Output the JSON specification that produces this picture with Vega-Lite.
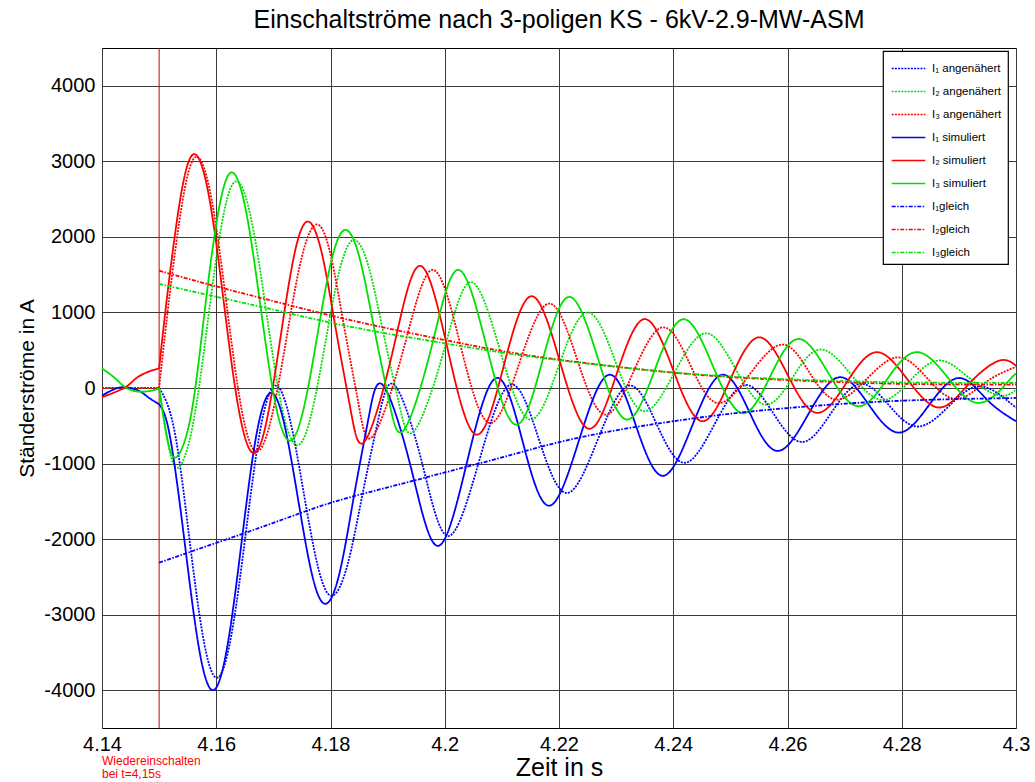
{
"$schema": "https://vega.github.io/schema/vega-lite/v6.json",
"autosize": {"type": "none"},
"width": 914, "height": 680,
"padding": {"left": 102, "top": 48, "right": 19, "bottom": 54},
"background": "white",
"title": {"text": "Einschaltströme nach 3-poligen KS - 6kV-2.9-MW-ASM", "font": "Liberation Sans", "fontSize": 25, "fontWeight": "normal", "color": "black", "offset": 15},
"config": {
  "font": "Liberation Sans",
  "view": {"stroke": "black", "strokeWidth": 1},
  "axis": {"domain": false, "ticks": false, "grid": true, "gridColor": "#3a3a3a", "gridWidth": 1, "labelFont": "Liberation Sans", "labelFontSize": 20, "labelColor": "black", "labelFlush": false, "labelOverlap": false, "titleFont": "Liberation Sans", "titleFontWeight": "normal", "titleColor": "black"},
  "legend": {"orient": "none", "legendX": 781, "legendY": 3, "fillColor": "white", "strokeColor": "black", "strokeWidth": 1.2, "padding": 6, "rowPadding": 6, "symbolType": "M-1.6,0H1.6", "symbolSize": 441, "symbolStrokeWidth": 1.6, "symbolOffset": 8, "labelOffset": 12, "labelFont": "Liberation Sans", "labelFontSize": 11.5, "labelColor": "black"}
},
"encoding": {
  "x": {"field": "t", "type": "quantitative", "scale": {"domain": [4.14, 4.3], "nice": false, "zero": false}, "axis": {"values": [4.14,4.16,4.18,4.2,4.22,4.24,4.26,4.28,4.3], "labelExpr": "'' + datum.value", "labelPadding": 6, "title": "Zeit in s", "titleFontSize": 25, "titlePadding": 1}},
  "y": {"field": "v", "type": "quantitative", "scale": {"domain": [-4500, 4500], "nice": false, "zero": false}, "axis": {"values": [-4000,-3000,-2000,-1000,0,1000,2000,3000,4000], "labelExpr": "'' + datum.value", "labelPadding": 7, "title": "Ständerströme in A", "titleFontSize": 21, "titlePadding": 6}}
},
"layer": [
{"data": {"values": [{"t": 4.15, "v": 4500, "v2": -4500}]},
 "mark": {"type": "rule", "color": "#d00000", "strokeWidth": 1},
 "encoding": {"y2": {"field": "v2"}}},
{"data": {"values": [
{"s":"I₁ angenähert","p":"a","t":4.14,"v":0},{"s":"I₁ angenähert","p":"a","t":4.15,"v":0},
{"s":"I₁ angenähert","p":"b","t":4.15,"v":0},{"s":"I₁ angenähert","p":"b","t":4.1526,"v":-536},{"s":"I₁ angenähert","p":"b","t":4.15515,"v":-1903},{"s":"I₁ angenähert","p":"b","t":4.15763,"v":-3270},{"s":"I₁ angenähert","p":"b","t":4.1601,"v":-3835},{"s":"I₁ angenähert","p":"b","t":4.16265,"v":-3270},{"s":"I₁ angenähert","p":"b","t":4.1652,"v":-1903},{"s":"I₁ angenähert","p":"b","t":4.16775,"v":-536},{"s":"I₁ angenähert","p":"b","t":4.1703,"v":30},{"s":"I₁ angenähert","p":"b","t":4.17278,"v":-377},{"s":"I₁ angenähert","p":"b","t":4.17525,"v":-1360},{"s":"I₁ angenähert","p":"b","t":4.17773,"v":-2343},{"s":"I₁ angenähert","p":"b","t":4.1802,"v":-2750},{"s":"I₁ angenähert","p":"b","t":4.18297,"v":-2342},{"s":"I₁ angenähert","p":"b","t":4.18573,"v":-1358},{"s":"I₁ angenähert","p":"b","t":4.18849,"v":-374},{"s":"I₁ angenähert","p":"b","t":4.19125,"v":35},{"s":"I₁ angenähert","p":"b","t":4.19593,"v":-963},{"s":"I₁ angenähert","p":"b","t":4.2006,"v":-1960},{"s":"I₁ angenähert","p":"b","t":4.20605,"v":-958},{"s":"I₁ angenähert","p":"b","t":4.2115,"v":44},{"s":"I₁ angenähert","p":"b","t":4.21645,"v":-673},{"s":"I₁ angenähert","p":"b","t":4.2214,"v":-1390},{"s":"I₁ angenähert","p":"b","t":4.2268,"v":-680},{"s":"I₁ angenähert","p":"b","t":4.2322,"v":31},{"s":"I₁ angenähert","p":"b","t":4.2371,"v":-480},{"s":"I₁ angenähert","p":"b","t":4.242,"v":-990},{"s":"I₁ angenähert","p":"b","t":4.24725,"v":-476},{"s":"I₁ angenähert","p":"b","t":4.2525,"v":38},{"s":"I₁ angenähert","p":"b","t":4.25755,"v":-339},{"s":"I₁ angenähert","p":"b","t":4.2626,"v":-715},{"s":"I₁ angenähert","p":"b","t":4.26765,"v":-330},{"s":"I₁ angenähert","p":"b","t":4.2727,"v":55},{"s":"I₁ angenähert","p":"b","t":4.27775,"v":-228},{"s":"I₁ angenähert","p":"b","t":4.2828,"v":-510},{"s":"I₁ angenähert","p":"b","t":4.2882,"v":-244},{"s":"I₁ angenähert","p":"b","t":4.2936,"v":22},{"s":"I₁ angenähert","p":"b","t":4.2986,"v":-174},{"s":"I₁ angenähert","p":"b","t":4.3,"v":-257},
{"s":"I₂ angenähert","p":"a","t":4.14,"v":0},{"s":"I₂ angenähert","p":"a","t":4.15,"v":0},
{"s":"I₂ angenähert","p":"b","t":4.15,"v":0},{"s":"I₂ angenähert","p":"b","t":4.1517,"v":-783},{"s":"I₂ angenähert","p":"b","t":4.1534,"v":-1052},{"s":"I₂ angenähert","p":"b","t":4.15588,"v":-497},{"s":"I₂ angenähert","p":"b","t":4.15845,"v":842},{"s":"I₂ angenähert","p":"b","t":4.16098,"v":2181},{"s":"I₂ angenähert","p":"b","t":4.1635,"v":2736},{"s":"I₂ angenähert","p":"b","t":4.16615,"v":2225},{"s":"I₂ angenähert","p":"b","t":4.1688,"v":989},{"s":"I₂ angenähert","p":"b","t":4.17145,"v":-247},{"s":"I₂ angenähert","p":"b","t":4.1741,"v":-759},{"s":"I₂ angenähert","p":"b","t":4.1766,"v":-361},{"s":"I₂ angenähert","p":"b","t":4.1791,"v":601},{"s":"I₂ angenähert","p":"b","t":4.1816,"v":1563},{"s":"I₂ angenähert","p":"b","t":4.1841,"v":1960},{"s":"I₂ angenähert","p":"b","t":4.18673,"v":1590},{"s":"I₂ angenähert","p":"b","t":4.18935,"v":694},{"s":"I₂ angenähert","p":"b","t":4.19198,"v":-202},{"s":"I₂ angenähert","p":"b","t":4.1946,"v":-573},{"s":"I₂ angenähert","p":"b","t":4.19955,"v":414},{"s":"I₂ angenähert","p":"b","t":4.2045,"v":1401},{"s":"I₂ angenähert","p":"b","t":4.2097,"v":492},{"s":"I₂ angenähert","p":"b","t":4.2149,"v":-417},{"s":"I₂ angenähert","p":"b","t":4.21995,"v":292},{"s":"I₂ angenähert","p":"b","t":4.225,"v":1000},{"s":"I₂ angenähert","p":"b","t":4.2299,"v":347},{"s":"I₂ angenähert","p":"b","t":4.2348,"v":-307},{"s":"I₂ angenähert","p":"b","t":4.24025,"v":209},{"s":"I₂ angenähert","p":"b","t":4.2457,"v":724},{"s":"I₂ angenähert","p":"b","t":4.2509,"v":253},{"s":"I₂ angenähert","p":"b","t":4.2561,"v":-219},{"s":"I₂ angenähert","p":"b","t":4.26095,"v":146},{"s":"I₂ angenähert","p":"b","t":4.2658,"v":510},{"s":"I₂ angenähert","p":"b","t":4.27115,"v":176},{"s":"I₂ angenähert","p":"b","t":4.2765,"v":-158},{"s":"I₂ angenähert","p":"b","t":4.28155,"v":104},{"s":"I₂ angenähert","p":"b","t":4.2866,"v":365},{"s":"I₂ angenähert","p":"b","t":4.2918,"v":133},{"s":"I₂ angenähert","p":"b","t":4.297,"v":-100},{"s":"I₂ angenähert","p":"b","t":4.3,"v":-20},
{"s":"I₃ angenähert","p":"a","t":4.14,"v":0},{"s":"I₃ angenähert","p":"a","t":4.15,"v":0},
{"s":"I₃ angenähert","p":"b","t":4.15,"v":0},{"s":"I₃ angenähert","p":"b","t":4.15165,"v":1110},{"s":"I₃ angenähert","p":"b","t":4.15413,"v":2489},{"s":"I₃ angenähert","p":"b","t":4.1566,"v":3061},{"s":"I₃ angenähert","p":"b","t":4.1592,"v":2489},{"s":"I₃ angenähert","p":"b","t":4.1618,"v":1110},{"s":"I₃ angenähert","p":"b","t":4.1644,"v":-269},{"s":"I₃ angenähert","p":"b","t":4.167,"v":-840},{"s":"I₃ angenähert","p":"b","t":4.16965,"v":-400},{"s":"I₃ angenähert","p":"b","t":4.1723,"v":663},{"s":"I₃ angenähert","p":"b","t":4.17495,"v":1726},{"s":"I₃ angenähert","p":"b","t":4.1776,"v":2165},{"s":"I₃ angenähert","p":"b","t":4.18005,"v":1754},{"s":"I₃ angenähert","p":"b","t":4.1825,"v":763},{"s":"I₃ angenähert","p":"b","t":4.18495,"v":-228},{"s":"I₃ angenähert","p":"b","t":4.1874,"v":-639},{"s":"I₃ angenähert","p":"b","t":4.1926,"v":463},{"s":"I₃ angenähert","p":"b","t":4.1978,"v":1564},{"s":"I₃ angenähert","p":"b","t":4.2028,"v":551},{"s":"I₃ angenähert","p":"b","t":4.2078,"v":-463},{"s":"I₃ angenähert","p":"b","t":4.21305,"v":328},{"s":"I₃ angenähert","p":"b","t":4.2183,"v":1118},{"s":"I₃ angenähert","p":"b","t":4.22315,"v":384},{"s":"I₃ angenähert","p":"b","t":4.228,"v":-351},{"s":"I₃ angenähert","p":"b","t":4.2331,"v":226},{"s":"I₃ angenähert","p":"b","t":4.2382,"v":803},{"s":"I₃ angenähert","p":"b","t":4.243,"v":302},{"s":"I₃ angenähert","p":"b","t":4.2478,"v":-200},{"s":"I₃ angenähert","p":"b","t":4.25345,"v":188},{"s":"I₃ angenähert","p":"b","t":4.2591,"v":575},{"s":"I₃ angenähert","p":"b","t":4.2638,"v":211},{"s":"I₃ angenähert","p":"b","t":4.2685,"v":-154},{"s":"I₃ angenähert","p":"b","t":4.27395,"v":126},{"s":"I₃ angenähert","p":"b","t":4.2794,"v":405},{"s":"I₃ angenähert","p":"b","t":4.28445,"v":130},{"s":"I₃ angenähert","p":"b","t":4.2895,"v":-145},{"s":"I₃ angenähert","p":"b","t":4.2947,"v":78},{"s":"I₃ angenähert","p":"b","t":4.3,"v":280},
{"s":"I₁ simuliert","p":"a","t":4.14,"v":-101},{"s":"I₁ simuliert","p":"a","t":4.1422,"v":-13},{"s":"I₁ simuliert","p":"a","t":4.1441,"v":9},{"s":"I₁ simuliert","p":"a","t":4.1464,"v":-35},{"s":"I₁ simuliert","p":"a","t":4.1481,"v":-123},{"s":"I₁ simuliert","p":"a","t":4.15,"v":-215},
{"s":"I₁ simuliert","p":"b","t":4.15,"v":-215},{"s":"I₁ simuliert","p":"b","t":4.1519,"v":-641},{"s":"I₁ simuliert","p":"b","t":4.15445,"v":-2032},{"s":"I₁ simuliert","p":"b","t":4.15693,"v":-3424},{"s":"I₁ simuliert","p":"b","t":4.1594,"v":-4000},{"s":"I₁ simuliert","p":"b","t":4.16193,"v":-3424},{"s":"I₁ simuliert","p":"b","t":4.16445,"v":-2032},{"s":"I₁ simuliert","p":"b","t":4.16698,"v":-640},{"s":"I₁ simuliert","p":"b","t":4.1695,"v":-65},{"s":"I₁ simuliert","p":"b","t":4.1719,"v":-474},{"s":"I₁ simuliert","p":"b","t":4.1743,"v":-1461},{"s":"I₁ simuliert","p":"b","t":4.1767,"v":-2448},{"s":"I₁ simuliert","p":"b","t":4.1791,"v":-2857},{"s":"I₁ simuliert","p":"b","t":4.18163,"v":-2433},{"s":"I₁ simuliert","p":"b","t":4.18415,"v":-1411},{"s":"I₁ simuliert","p":"b","t":4.18668,"v":-389},{"s":"I₁ simuliert","p":"b","t":4.1892,"v":35},{"s":"I₁ simuliert","p":"b","t":4.194,"v":-1028},{"s":"I₁ simuliert","p":"b","t":4.1988,"v":-2090},{"s":"I₁ simuliert","p":"b","t":4.2039,"v":-979},{"s":"I₁ simuliert","p":"b","t":4.209,"v":132},{"s":"I₁ simuliert","p":"b","t":4.21365,"v":-713},{"s":"I₁ simuliert","p":"b","t":4.2183,"v":-1558},{"s":"I₁ simuliert","p":"b","t":4.2235,"v":-692},{"s":"I₁ simuliert","p":"b","t":4.2287,"v":175},{"s":"I₁ simuliert","p":"b","t":4.23345,"v":-494},{"s":"I₁ simuliert","p":"b","t":4.2382,"v":-1162},{"s":"I₁ simuliert","p":"b","t":4.24335,"v":-494},{"s":"I₁ simuliert","p":"b","t":4.2485,"v":175},{"s":"I₁ simuliert","p":"b","t":4.2534,"v":-329},{"s":"I₁ simuliert","p":"b","t":4.2583,"v":-833},{"s":"I₁ simuliert","p":"b","t":4.26365,"v":-346},{"s":"I₁ simuliert","p":"b","t":4.269,"v":142},{"s":"I₁ simuliert","p":"b","t":4.27425,"v":-224},{"s":"I₁ simuliert","p":"b","t":4.2795,"v":-590},{"s":"I₁ simuliert","p":"b","t":4.28475,"v":-229},{"s":"I₁ simuliert","p":"b","t":4.29,"v":132},{"s":"I₁ simuliert","p":"b","t":4.295,"v":-160},{"s":"I₁ simuliert","p":"b","t":4.3,"v":-440},
{"s":"I₂ simuliert","p":"a","t":4.14,"v":-123},{"s":"I₂ simuliert","p":"a","t":4.1422,"v":-57},{"s":"I₂ simuliert","p":"a","t":4.1445,"v":31},{"s":"I₂ simuliert","p":"a","t":4.1462,"v":141},{"s":"I₂ simuliert","p":"a","t":4.1486,"v":229},{"s":"I₂ simuliert","p":"a","t":4.15,"v":255},
{"s":"I₂ simuliert","p":"b","t":4.15,"v":255},{"s":"I₂ simuliert","p":"b","t":4.15125,"v":1116},{"s":"I₂ simuliert","p":"b","t":4.15373,"v":2515},{"s":"I₂ simuliert","p":"b","t":4.1562,"v":3095},{"s":"I₂ simuliert","p":"b","t":4.15878,"v":2515},{"s":"I₂ simuliert","p":"b","t":4.16135,"v":1116},{"s":"I₂ simuliert","p":"b","t":4.16393,"v":-283},{"s":"I₂ simuliert","p":"b","t":4.1665,"v":-863},{"s":"I₂ simuliert","p":"b","t":4.16888,"v":-414},{"s":"I₂ simuliert","p":"b","t":4.17125,"v":670},{"s":"I₂ simuliert","p":"b","t":4.17363,"v":1754},{"s":"I₂ simuliert","p":"b","t":4.176,"v":2203},{"s":"I₂ simuliert","p":"b","t":4.1785,"v":1777},{"s":"I₂ simuliert","p":"b","t":4.181,"v":749},{"s":"I₂ simuliert","p":"b","t":4.1835,"v":-279},{"s":"I₂ simuliert","p":"b","t":4.186,"v":-705},{"s":"I₂ simuliert","p":"b","t":4.1908,"v":456},{"s":"I₂ simuliert","p":"b","t":4.1956,"v":1617},{"s":"I₂ simuliert","p":"b","t":4.20055,"v":500},{"s":"I₂ simuliert","p":"b","t":4.2055,"v":-617},{"s":"I₂ simuliert","p":"b","t":4.21035,"v":299},{"s":"I₂ simuliert","p":"b","t":4.2152,"v":1215},{"s":"I₂ simuliert","p":"b","t":4.2202,"v":338},{"s":"I₂ simuliert","p":"b","t":4.2252,"v":-539},{"s":"I₂ simuliert","p":"b","t":4.2301,"v":187},{"s":"I₂ simuliert","p":"b","t":4.235,"v":912},{"s":"I₂ simuliert","p":"b","t":4.24,"v":237},{"s":"I₂ simuliert","p":"b","t":4.245,"v":-439},{"s":"I₂ simuliert","p":"b","t":4.25,"v":116},{"s":"I₂ simuliert","p":"b","t":4.255,"v":671},{"s":"I₂ simuliert","p":"b","t":4.26005,"v":171},{"s":"I₂ simuliert","p":"b","t":4.2651,"v":-329},{"s":"I₂ simuliert","p":"b","t":4.27035,"v":73},{"s":"I₂ simuliert","p":"b","t":4.2756,"v":474},{"s":"I₂ simuliert","p":"b","t":4.28105,"v":108},{"s":"I₂ simuliert","p":"b","t":4.2865,"v":-258},{"s":"I₂ simuliert","p":"b","t":4.2917,"v":50},{"s":"I₂ simuliert","p":"b","t":4.2969,"v":358},{"s":"I₂ simuliert","p":"b","t":4.3,"v":295},
{"s":"I₃ simuliert","p":"a","t":4.14,"v":260},{"s":"I₃ simuliert","p":"a","t":4.1423,"v":128},{"s":"I₃ simuliert","p":"a","t":4.1441,"v":9},{"s":"I₃ simuliert","p":"a","t":4.1464,"v":-48},{"s":"I₃ simuliert","p":"a","t":4.1487,"v":-35},{"s":"I₃ simuliert","p":"a","t":4.15,"v":-4},
{"s":"I₃ simuliert","p":"b","t":4.15,"v":-4},{"s":"I₃ simuliert","p":"b","t":4.1515,"v":-700},{"s":"I₃ simuliert","p":"b","t":4.1531,"v":-910},{"s":"I₃ simuliert","p":"b","t":4.15558,"v":-359},{"s":"I₃ simuliert","p":"b","t":4.1579,"v":972},{"s":"I₃ simuliert","p":"b","t":4.1603,"v":2303},{"s":"I₃ simuliert","p":"b","t":4.1627,"v":2854},{"s":"I₃ simuliert","p":"b","t":4.16523,"v":2334},{"s":"I₃ simuliert","p":"b","t":4.16775,"v":1078},{"s":"I₃ simuliert","p":"b","t":4.17028,"v":-178},{"s":"I₃ simuliert","p":"b","t":4.1728,"v":-698},{"s":"I₃ simuliert","p":"b","t":4.17525,"v":-289},{"s":"I₃ simuliert","p":"b","t":4.1777,"v":698},{"s":"I₃ simuliert","p":"b","t":4.18015,"v":1685},{"s":"I₃ simuliert","p":"b","t":4.1826,"v":2093},{"s":"I₃ simuliert","p":"b","t":4.18515,"v":1705},{"s":"I₃ simuliert","p":"b","t":4.1877,"v":767},{"s":"I₃ simuliert","p":"b","t":4.19025,"v":-171},{"s":"I₃ simuliert","p":"b","t":4.1928,"v":-560},{"s":"I₃ simuliert","p":"b","t":4.19755,"v":502},{"s":"I₃ simuliert","p":"b","t":4.2023,"v":1564},{"s":"I₃ simuliert","p":"b","t":4.20735,"v":540},{"s":"I₃ simuliert","p":"b","t":4.2124,"v":-485},{"s":"I₃ simuliert","p":"b","t":4.2171,"v":361},{"s":"I₃ simuliert","p":"b","t":4.2218,"v":1206},{"s":"I₃ simuliert","p":"b","t":4.2268,"v":395},{"s":"I₃ simuliert","p":"b","t":4.2318,"v":-417},{"s":"I₃ simuliert","p":"b","t":4.2368,"v":247},{"s":"I₃ simuliert","p":"b","t":4.2418,"v":910},{"s":"I₃ simuliert","p":"b","t":4.24695,"v":289},{"s":"I₃ simuliert","p":"b","t":4.2521,"v":-333},{"s":"I₃ simuliert","p":"b","t":4.257,"v":158},{"s":"I₃ simuliert","p":"b","t":4.2619,"v":649},{"s":"I₃ simuliert","p":"b","t":4.2671,"v":204},{"s":"I₃ simuliert","p":"b","t":4.2723,"v":-241},{"s":"I₃ simuliert","p":"b","t":4.27745,"v":117},{"s":"I₃ simuliert","p":"b","t":4.2826,"v":475},{"s":"I₃ simuliert","p":"b","t":4.28805,"v":139},{"s":"I₃ simuliert","p":"b","t":4.2935,"v":-198},{"s":"I₃ simuliert","p":"b","t":4.2985,"v":76},{"s":"I₃ simuliert","p":"b","t":4.3,"v":190},
{"s":"I₁gleich","p":"b","t":4.15,"v":-2311},{"s":"I₁gleich","p":"b","t":4.16,"v":-2050},{"s":"I₁gleich","p":"b","t":4.17,"v":-1785},{"s":"I₁gleich","p":"b","t":4.18,"v":-1521},{"s":"I₁gleich","p":"b","t":4.19,"v":-1316},{"s":"I₁gleich","p":"b","t":4.2,"v":-1118},{"s":"I₁gleich","p":"b","t":4.21,"v":-919},{"s":"I₁gleich","p":"b","t":4.22,"v":-717},{"s":"I₁gleich","p":"b","t":4.23,"v":-560},{"s":"I₁gleich","p":"b","t":4.24,"v":-440},{"s":"I₁gleich","p":"b","t":4.25,"v":-340},{"s":"I₁gleich","p":"b","t":4.26,"v":-265},{"s":"I₁gleich","p":"b","t":4.27,"v":-208},{"s":"I₁gleich","p":"b","t":4.28,"v":-168},{"s":"I₁gleich","p":"b","t":4.29,"v":-146},{"s":"I₁gleich","p":"b","t":4.3,"v":-132},
{"s":"I₂gleich","p":"b","t":4.15,"v":1552},{"s":"I₂gleich","p":"b","t":4.16,"v":1345},{"s":"I₂gleich","p":"b","t":4.17,"v":1150},{"s":"I₂gleich","p":"b","t":4.18,"v":960},{"s":"I₂gleich","p":"b","t":4.19,"v":790},{"s":"I₂gleich","p":"b","t":4.2,"v":635},{"s":"I₂gleich","p":"b","t":4.21,"v":490},{"s":"I₂gleich","p":"b","t":4.22,"v":375},{"s":"I₂gleich","p":"b","t":4.23,"v":283},{"s":"I₂gleich","p":"b","t":4.24,"v":203},{"s":"I₂gleich","p":"b","t":4.25,"v":145},{"s":"I₂gleich","p":"b","t":4.26,"v":105},{"s":"I₂gleich","p":"b","t":4.27,"v":75},{"s":"I₂gleich","p":"b","t":4.28,"v":55},{"s":"I₂gleich","p":"b","t":4.29,"v":47},{"s":"I₂gleich","p":"b","t":4.3,"v":44},
{"s":"I₃gleich","p":"b","t":4.15,"v":1377},{"s":"I₃gleich","p":"b","t":4.16,"v":1208},{"s":"I₃gleich","p":"b","t":4.17,"v":1037},{"s":"I₃gleich","p":"b","t":4.18,"v":865},{"s":"I₃gleich","p":"b","t":4.19,"v":720},{"s":"I₃gleich","p":"b","t":4.2,"v":591},{"s":"I₃gleich","p":"b","t":4.21,"v":470},{"s":"I₃gleich","p":"b","t":4.22,"v":368},{"s":"I₃gleich","p":"b","t":4.23,"v":280},{"s":"I₃gleich","p":"b","t":4.24,"v":205},{"s":"I₃gleich","p":"b","t":4.25,"v":152},{"s":"I₃gleich","p":"b","t":4.26,"v":115},{"s":"I₃gleich","p":"b","t":4.27,"v":90},{"s":"I₃gleich","p":"b","t":4.28,"v":75},{"s":"I₃gleich","p":"b","t":4.29,"v":68},{"s":"I₃gleich","p":"b","t":4.3,"v":66}
]},
 "mark": {"type": "line", "interpolate": "natural", "strokeWidth": 1.8},
 "encoding": {
  "color": {"field": "s", "type": "nominal", "sort": null, "scale": {"domain": ["I₁ angenähert","I₂ angenähert","I₃ angenähert","I₁ simuliert","I₂ simuliert","I₃ simuliert","I₁gleich","I₂gleich","I₃gleich"], "range": ["#0000ff","#00e000","#ff0000","#0000ff","#ff0000","#00e000","#0000ff","#ff0000","#00e000"]}, "legend": {"title": null}},
  "strokeDash": {"field": "s", "type": "nominal", "sort": null, "scale": {"domain": ["I₁ angenähert","I₂ angenähert","I₃ angenähert","I₁ simuliert","I₂ simuliert","I₃ simuliert","I₁gleich","I₂gleich","I₃gleich"], "range": [[2,1.2],[2,1.2],[2,1.2],[1,0],[1,0],[1,0],[4,1.5,1.5,1.5],[4,1.5,1.5,1.5],[4,1.5,1.5,1.5]]}, "legend": {"title": null}},
  "detail": {"field": "p"}
 }},
{"data": {"values": [{"t": 4.14, "v": -4989, "txt": "Wiedereinschalten"}, {"t": 4.14, "v": -5161, "txt": "bei t=4,15s"}]},
 "mark": {"type": "text", "align": "left", "baseline": "alphabetic", "color": "#ff0000", "fontSize": 12, "font": "Liberation Sans"},
 "encoding": {"text": {"field": "txt"}}}
]
}
